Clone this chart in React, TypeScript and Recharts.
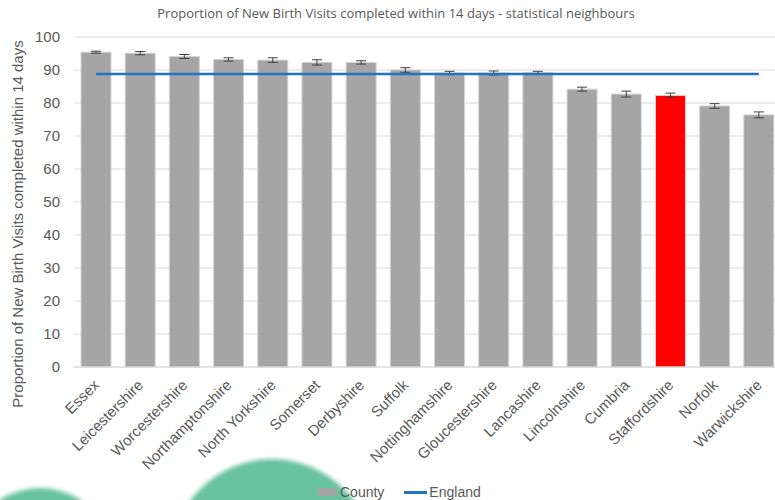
import React from "react";
import {
  ComposedChart,
  Bar,
  Line,
  Cell,
  XAxis,
  YAxis,
  CartesianGrid,
  ErrorBar,
  Legend,
} from "recharts";

const counties = [
  "Essex",
  "Leicestershire",
  "Worcestershire",
  "Northamptonshire",
  "North Yorkshire",
  "Somerset",
  "Derbyshire",
  "Suffolk",
  "Nottinghamshire",
  "Gloucestershire",
  "Lancashire",
  "Lincolnshire",
  "Cumbria",
  "Staffordshire",
  "Norfolk",
  "Warwickshire",
];
const countyValues = [95.4, 95.1, 94.1, 93.2, 93.0, 92.3, 92.3, 90.0, 89.1, 89.1, 89.2, 84.2, 82.7, 82.3, 79.1, 76.4];
const countyErrors = [0.3, 0.5, 0.6, 0.5, 0.7, 0.8, 0.5, 0.7, 0.5, 0.6, 0.4, 0.6, 0.9, 0.7, 0.7, 0.9];
const englandValue = 88.8;
const highlight = "Staffordshire";
const yTicks = [0, 10, 20, 30, 40, 50, 60, 70, 80, 90, 100];

const data = counties.map((name, i) => ({
  name,
  county: countyValues[i],
  err: countyErrors[i],
  england: englandValue,
}));

const GREY = "#595959";

const CountyTick = (props: any) => {
  const { x, y, payload } = props;
  const ax = x + 4;
  const ay = y + 11;
  return (
    <text
      x={ax}
      y={ay}
      transform={`rotate(-45, ${ax}, ${ay})`}
      textAnchor="end"
      fontSize={15}
      fontFamily="'Liberation Sans', Arial, sans-serif"
      fill={GREY}
    >
      {payload.value}
    </text>
  );
};

const LegendBox = () => (
  <div
    style={{
      display: "flex",
      alignItems: "center",
      paddingLeft: 318,
      fontFamily: "'Liberation Sans', Arial, sans-serif",
      fontSize: 14,
      color: GREY,
      lineHeight: "16px",
    }}
  >
    <span style={{ width: 19, height: 8, background: "#a5a5a5", display: "inline-block" }} />
    <span style={{ marginLeft: 3 }}>County</span>
    <span style={{ width: 23, height: 3, background: "#1f74c3", display: "inline-block", marginLeft: 20 }} />
    <span style={{ marginLeft: 2 }}>England</span>
  </div>
);

const App = () => {
  return (
    <div
      style={{
        position: "absolute",
        left: 0,
        top: 0,
        width: 775,
        height: 500,
        overflow: "hidden",
        background: "#fff",
      }}
    >
      {/* soft green blobs from the slide background */}
      <div
        style={{
          position: "absolute",
          left: -33,
          top: 488,
          width: 146,
          height: 146,
          borderRadius: "50%",
          background: "#69c2a1",
          filter: "blur(2px)",
        }}
      />
      <div
        style={{
          position: "absolute",
          left: 171,
          top: 459,
          width: 202,
          height: 202,
          borderRadius: "50%",
          background: "#69c2a1",
          filter: "blur(2px)",
        }}
      />
      <div
        style={{
          position: "absolute",
          left: 0,
          top: 4,
          width: 792,
          textAlign: "center",
          fontFamily: "'Open Sans', sans-serif",
          fontSize: 13,
          color: GREY,
        }}
      >
        Proportion of New Birth Visits completed within 14 days - statistical neighbours
      </div>
      <div style={{ position: "absolute", left: 0, top: 0 }}>
        <ComposedChart
          width={781}
          height={500}
          data={data}
          margin={{ top: 37, right: 0, bottom: 0, left: 0 }}
        >
          <CartesianGrid vertical={false} stroke="#d9d9d9" />
          <XAxis
            dataKey="name"
            interval={0}
            height={118}
            tickLine={false}
            axisLine={{ stroke: "#d9d9d9" }}
            tick={<CountyTick />}
          />
          <YAxis
            domain={[0, 100]}
            ticks={yTicks}
            width={74}
            tickLine={false}
            axisLine={false}
            tickSize={6}
            tickMargin={8}
            tick={{ fontSize: 15, fill: GREY, fontFamily: "'Liberation Sans', Arial, sans-serif" }}
            label={{
              content: () => (
                <text
                  x={17}
                  y={224}
                  transform="rotate(-90, 17, 224)"
                  textAnchor="middle"
                  dominantBaseline="central"
                  fontSize={15}
                  fontFamily="'Liberation Sans', Arial, sans-serif"
                  fill={GREY}
                >
                  Proportion of New Birth Visits completed within 14 days
                </text>
              ),
            }}
          />
          <Legend verticalAlign="bottom" height={15} wrapperStyle={{ left: 0, width: 775, bottom: 1 }} content={<LegendBox />} />
          <Bar dataKey="county" name="County" barSize={30} fill="#a5a5a5" stroke="#d4d4d4" strokeWidth={1} isAnimationActive={false}>
            {data.map((d) => (
              <Cell key={d.name} fill={d.name === highlight ? "#ff0000" : "#a5a5a5"} />
            ))}
            <ErrorBar dataKey="err" width={5} stroke="#404040" strokeWidth={1} />
          </Bar>
          <Line
            dataKey="england"
            name="England"
            stroke="#1f74c3"
            strokeWidth={2.5}
            dot={false}
            activeDot={false}
            isAnimationActive={false}
          />
        </ComposedChart>
      </div>
    </div>
  );
};

export default App;
